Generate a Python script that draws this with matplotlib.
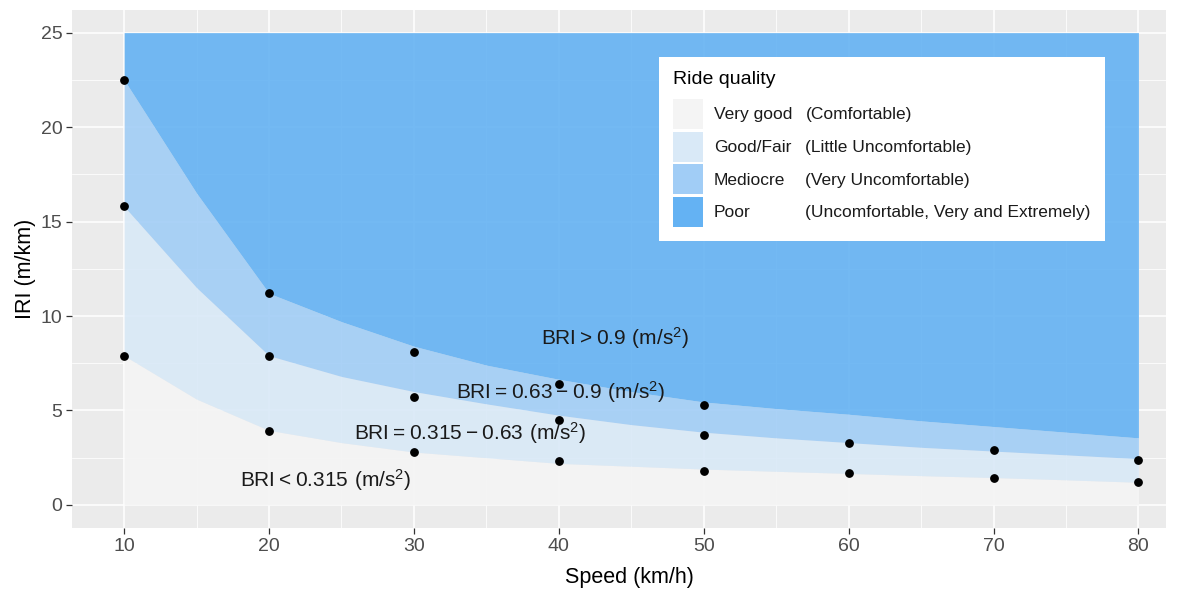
import matplotlib
matplotlib.use("Agg")
import matplotlib.pyplot as plt
from matplotlib.patches import Patch
from matplotlib.ticker import MultipleLocator

plt.rcParams['font.family'] = ['Liberation Sans', 'DejaVu Sans']
plt.rcParams['mathtext.default'] = 'regular'

# band limits (IRI, m/km)
speed_band = [10, 15, 20, 25, 30, 35, 40, 45, 50, 55, 60, 65, 70, 75, 80]
iri_lo = [7.9, 5.6, 3.95, 3.3, 2.8, 2.5, 2.2, 2.05, 1.9, 1.78, 1.67, 1.55, 1.45, 1.33, 1.2]
iri_mid = [15.8, 11.5, 7.9, 6.8, 6.0, 5.35, 4.75, 4.25, 3.85, 3.55, 3.3, 3.05, 2.85, 2.65, 2.45]
iri_hi = [22.5, 16.5, 11.2, 9.7, 8.4, 7.4, 6.65, 6.0, 5.45, 5.1, 4.8, 4.45, 4.15, 3.85, 3.55]
iri_top = 25

# measured points
pt_speed_hi = [10, 20, 30, 40, 50]
pt_iri_hi = [22.5, 11.2, 8.1, 6.4, 5.3]
pt_speed = [10, 20, 30, 40, 50, 60, 70, 80]
pt_iri_mid = [15.8, 7.9, 5.7, 4.5, 3.7, 3.3, 2.9, 2.4]
pt_iri_lo = [7.9, 3.9, 2.8, 2.3, 1.8, 1.7, 1.4, 1.2]

quality = ['Very good', 'Good/Fair', 'Mediocre', 'Poor']
comfort = ['(Comfortable)', '(Little Uncomfortable)', '(Very Uncomfortable)',
           '(Uncomfortable, Very and Extremely)']
colors = ['#F4F4F4', '#D9E9F7', '#A1CDF6', '#64B2F3']

labels = [r'$BRI < 0.315\ (m/s^2)$', r'$BRI = 0.315 - 0.63\ (m/s^2)$',
          r'$BRI = 0.63 - 0.9\ (m/s^2)$', r'$BRI > 0.9\ (m/s^2)$']
label_xy = [(23.9, 1.3), (33.9, 3.8), (40.1, 5.95), (43.9, 8.85)]

fig = plt.figure(figsize=(11.86, 5.89), dpi=100)
ax = fig.add_axes([0.0607, 0.1036, 0.9224, 0.8795])
ax.set_facecolor('#EBEBEB')

zero = [0] * len(speed_band)
top = [iri_top] * len(speed_band)
bounds = [zero, iri_lo, iri_mid, iri_hi, top]
for i in range(4):
    ax.fill_between(speed_band, bounds[i], bounds[i + 1], color=colors[i],
                    alpha=0.9, lw=0, zorder=1)

ax.scatter(pt_speed_hi, pt_iri_hi, s=28, color='black', zorder=3)
ax.scatter(pt_speed, pt_iri_mid, s=28, color='black', zorder=3)
ax.scatter(pt_speed, pt_iri_lo, s=28, color='black', zorder=3)

for txt, (x, y) in zip(labels, label_xy):
    ax.text(x, y, txt, ha='center', va='center', fontsize=15, color='#1A1A1A', zorder=4)

ax.set_xlim(6.4, 81.9)
ax.set_ylim(-1.22, 26.2)
ax.xaxis.set_major_locator(MultipleLocator(10))
ax.xaxis.set_minor_locator(MultipleLocator(5))
ax.yaxis.set_major_locator(MultipleLocator(5))
ax.yaxis.set_minor_locator(MultipleLocator(2.5))
ax.set_axisbelow(True)
ax.grid(which='major', color='white', lw=1.1)
ax.grid(which='minor', color='white', lw=0.55)
for s in ax.spines.values():
    s.set_visible(False)
ax.tick_params(which='major', length=4, width=0.9, color='#333333',
               labelsize=14, labelcolor='#4D4D4D', pad=3)
ax.tick_params(which='minor', length=0)
ax.set_xlabel('Speed (km/h)', fontsize=15.5, color='black', labelpad=2)
ax.set_ylabel('IRI (m/km)', fontsize=15.5, color='black', labelpad=3)
ax.xaxis.set_label_coords(0.51, -0.075)

# legend: first column keys + quality, second column the comfort text
handles = [Patch(facecolor=c, edgecolor='none') for c in colors]
blanks = [Patch(facecolor='none', edgecolor='none') for c in colors]
leg = ax.legend(handles + blanks, quality + comfort, ncol=2, title='Ride quality',
                loc='upper right', bbox_to_anchor=(0.944, 0.909), borderaxespad=0,
                fontsize=12.5, title_fontsize=14, alignment='left',
                handlelength=1.72, handleheight=2.275, handletextpad=0.63,
                labelspacing=0.155, columnspacing=-1.6, borderpad=0.8,
                frameon=True, fancybox=False, framealpha=1)
leg._legend_box.sep = 8
leg.get_frame().set_facecolor('white')
leg.get_frame().set_edgecolor('none')
for t in leg.get_texts():
    t.set_color('#1A1A1A')

fig.savefig('out.png', dpi=100)
